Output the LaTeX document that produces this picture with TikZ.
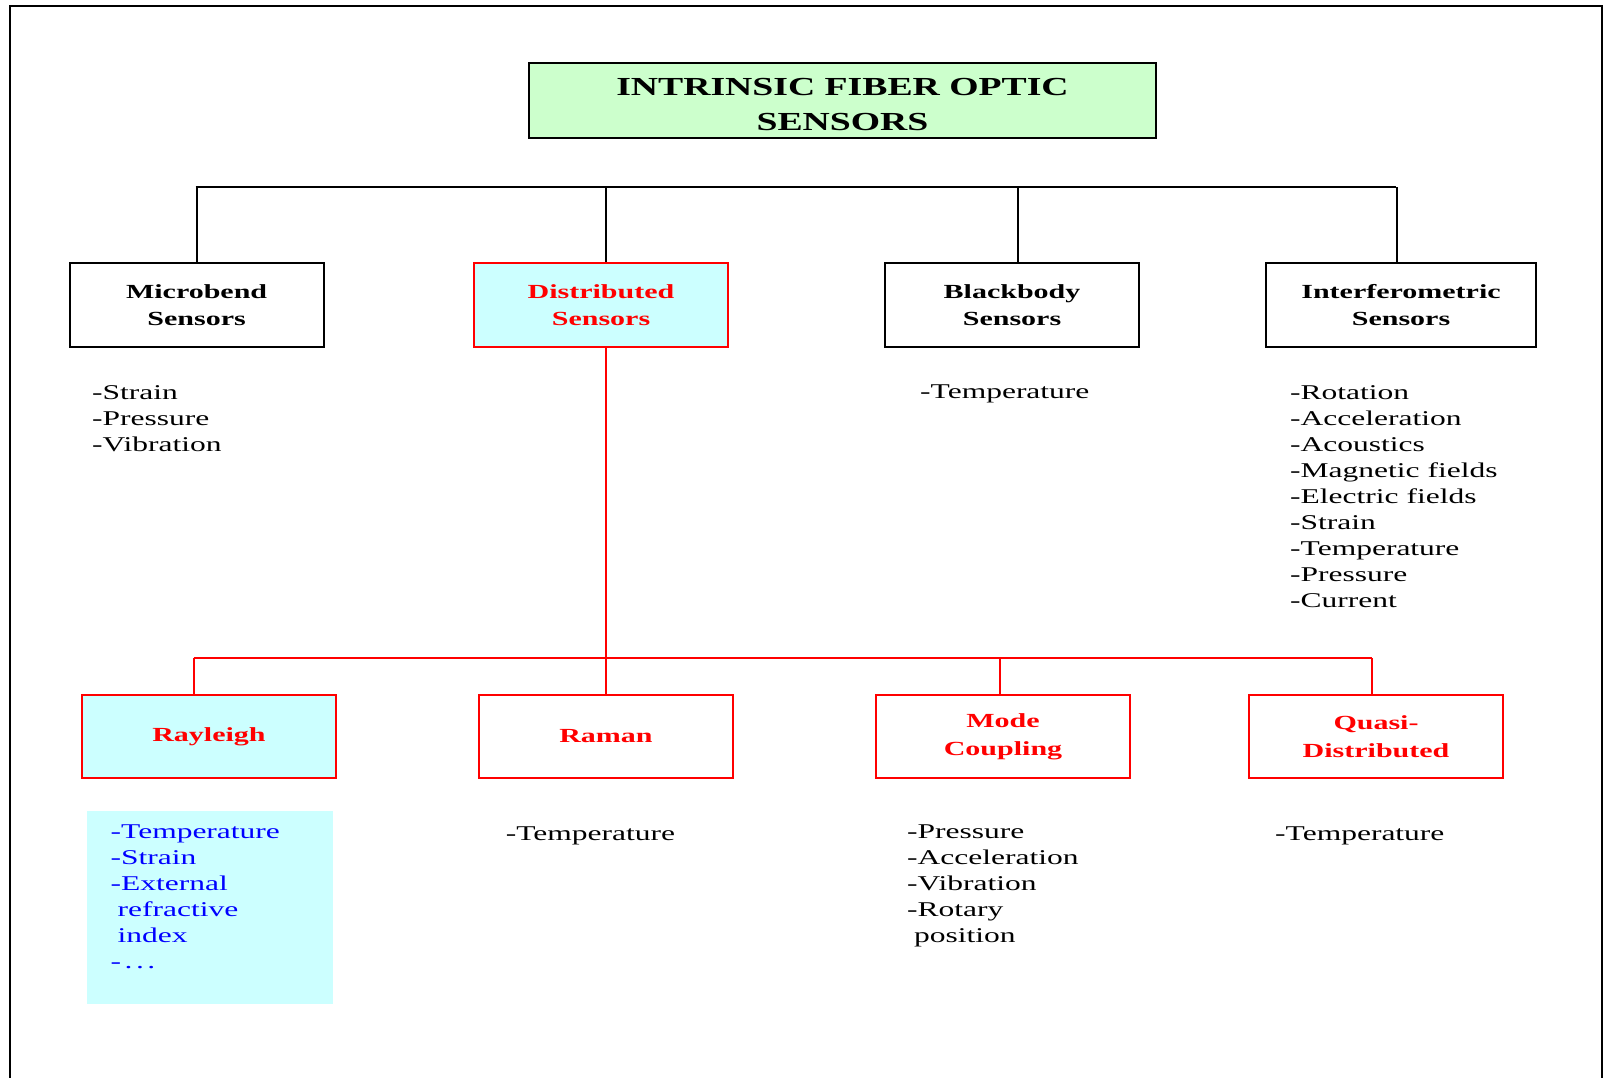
\documentclass[tikz,border=0pt]{standalone}
\usepackage{fontspec}
\setmainfont{Liberation Serif}
\newfontfamily\titlefont[FakeStretch=1.45]{Liberation Serif}
\newfontfamily\labelfont[FakeStretch=1.5]{Liberation Serif}
\newfontfamily\listfont[FakeStretch=1.5]{Liberation Serif}
\definecolor{titlegreen}{HTML}{CCFFCC}
\definecolor{palecyan}{HTML}{CCFFFF}
\definecolor{boxred}{HTML}{FF0000}
\definecolor{listblue}{HTML}{0000FF}
\begin{document}
\begin{tikzpicture}[x=1pt,y=-1pt,
  catbox/.style={draw, line width=2pt, minimum width=254pt, minimum height=84pt,
    inner sep=0pt, anchor=north west, align=center,
    font=\labelfont\bfseries\fontsize{20}{27.6}\selectfont},
  redbox/.style={catbox, draw=boxred, text=boxred, minimum height=83pt},
  itemlist/.style={anchor=north west, inner sep=0pt, align=left,
    font=\listfont\fontsize{21}{26}\selectfont},
  blackline/.style={line width=2pt},
  redline/.style={line width=2pt, draw=boxred}]
\useasboundingbox (0,0) rectangle (1605,1078);

% page frame
\draw[line width=2pt] (10,1078) -- (10,6) -- (1602,6) -- (1602,1078);

% title
\node[draw, line width=2pt, fill=titlegreen, minimum width=627pt, minimum height=75pt,
  inner sep=0pt] (title) at (842.5,100.5) {};
\node[inner sep=0pt, align=center, font=\titlefont\bfseries\fontsize{26}{35}\selectfont]
  (titletext) at ([yshift=-4pt]title.center) {INTRINSIC FIBER OPTIC\\SENSORS};

% first level
\node[catbox] (mb) at (68.6,262) {Microbend\\Sensors};
\node[catbox, draw=boxred, text=boxred, fill=palecyan] (ds) at (473,262) {Distributed\\Sensors};
\node[catbox] (bb) at (884,262) {Blackbody\\Sensors};
\node[catbox, minimum width=270pt] (if) at (1265,262) {Interferometric\\Sensors};

\coordinate (barL) at (195.5,187);
\coordinate (barR) at (1396,187);
\draw[blackline] (barL) -- (barR);
\draw[blackline] (mb.north) -- (mb.north |- barL);
\draw[blackline] ([xshift=5pt]ds.north) -- ([xshift=5pt]ds.north |- barL);
\draw[blackline] ([xshift=5.5pt]bb.north) -- ([xshift=5.5pt]bb.north |- barL);
\draw[blackline] ([xshift=-4pt]if.north) -- ([xshift=-4pt]if.north |- barL);

% second level
\node[redbox, fill=palecyan] (ray) at (81,694) {Rayleigh};
\node[redbox] (ram) at (478,694) {Raman};
\node[redbox] (mc) at (875,694) {Mode\\Coupling};
\node[redbox] (qd) at (1248,694) {Quasi-\\Distributed};

\coordinate (rbarL) at (193.5,658);
\coordinate (rbarR) at (1371.6,658);
\draw[redline] (rbarL) -- (rbarR);
\draw[redline] (ram.north |- ds.south) -- (ram.north);
\draw[redline] (rbarL) -- (rbarL |- ray.north);
\draw[redline] ([xshift=-3pt]mc.north |- rbarL) -- ([xshift=-3pt]mc.north);
\draw[redline] (rbarR) -- (rbarR |- qd.north);

% measurands
\node[itemlist] (mbl) at (92,385) {-Strain\\-Pressure\\-Vibration};
\node[itemlist] (bbl) at (920,385) {-Temperature};
\node[itemlist] (ifl) at (1290,385) {-Rotation\\-Acceleration\\-Acoustics\\-Magnetic fields\\-Electric fields\\-Strain\\-Temperature\\-Pressure\\-Current};

\fill[palecyan] (87,811) rectangle (333,1004);
\node[itemlist, text=listblue] (rayl) at (110.5,825) {-Temperature\\-Strain\\-External\\\hspace*{7pt}refractive\\\hspace*{7pt}index\\-\,.\,.\,.};
\node[itemlist] (raml) at (505.6,827) {-Temperature};
\node[itemlist] (mcl) at (907,825) {-Pressure\\-Acceleration\\-Vibration\\-Rotary\\\hspace*{7pt}position};
\node[itemlist] (qdl) at (1275,827) {-Temperature};
\end{tikzpicture}
\end{document}
